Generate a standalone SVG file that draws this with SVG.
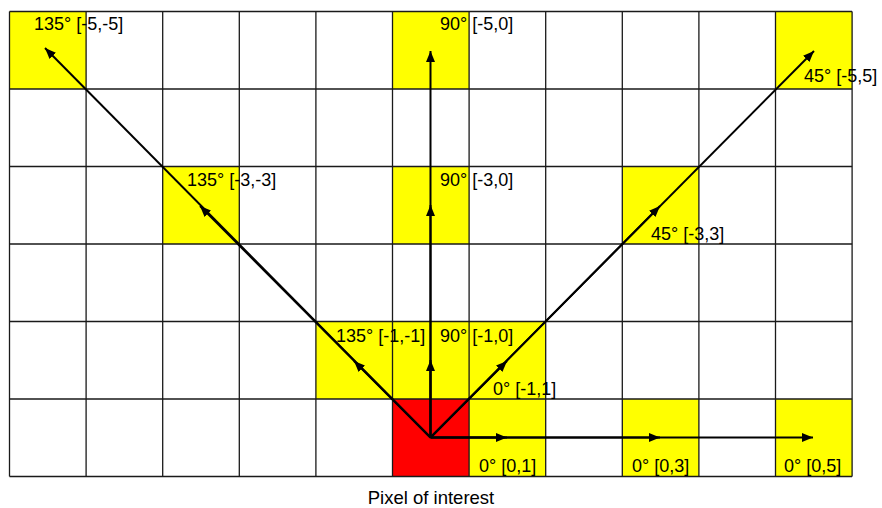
<svg xmlns="http://www.w3.org/2000/svg" width="882" height="508" viewBox="0 0 882 508">
<style>
  .y { fill: #FFFF00; }
  .r { fill: #FF0000; }
  .grid { stroke: #1a1a1a; stroke-width: 1.3; fill: none; }
  .lbl { font-family: "Liberation Sans", Arial, sans-serif; font-size: 18px; fill: #000; }
  .cap { font-family: "Liberation Sans", Arial, sans-serif; font-size: 18.5px; fill: #000; }
  .arr { stroke: #000; stroke-width: 2; fill: none; marker-end: url(#ah); }
</style>
<defs>
  <marker id="ah" markerUnits="userSpaceOnUse" markerWidth="12" markerHeight="10" refX="11" refY="5" orient="auto">
    <path d="M0,0.5 L11,5 L0,9.5 z" fill="#000"/>
  </marker>
</defs>
<rect x="0" y="0" width="882" height="508" fill="#fff"/>
<g id="cells">
  <rect class="y" x="9.5" y="11.5" width="76.6" height="77.5"/>
  <rect class="y" x="392.5" y="11.5" width="76.6" height="77.5"/>
  <rect class="y" x="775.5" y="11.5" width="76.6" height="77.5"/>
  <rect class="y" x="162.7" y="166.5" width="76.6" height="77.5"/>
  <rect class="y" x="392.5" y="166.5" width="76.6" height="77.5"/>
  <rect class="y" x="622.3" y="166.5" width="76.6" height="77.5"/>
  <rect class="y" x="315.9" y="321.5" width="229.8" height="77.5"/>
  <rect class="r" x="392.5" y="399" width="76.6" height="77.5"/>
  <rect class="y" x="469.1" y="399" width="76.6" height="77.5"/>
  <rect class="y" x="622.3" y="399" width="76.6" height="77.5"/>
  <rect class="y" x="775.5" y="399" width="76.6" height="77.5"/>
</g>
<g id="grid" class="grid">
  <path d="M9.5,11.5V476.5M86.1,11.5V476.5M162.7,11.5V476.5M239.3,11.5V476.5M315.9,11.5V476.5M392.5,11.5V476.5M469.1,11.5V476.5M545.7,11.5V476.5M622.3,11.5V476.5M698.9,11.5V476.5M775.5,11.5V476.5M852.1,11.5V476.5"/>
  <path d="M9.5,11.5H852.1M9.5,89H852.1M9.5,166.5H852.1M9.5,244H852.1M9.5,321.5H852.1M9.5,399H852.1M9.5,476.5H852.1"/>
</g>
<g id="connectors">
  <line class="arr" x1="430.5" y1="437.5" x2="430.5" y2="360"/>
  <line class="arr" x1="430.5" y1="437.5" x2="430.5" y2="205"/>
  <line class="arr" x1="430.5" y1="437.5" x2="430.5" y2="51"/>
  <line class="arr" x1="430.5" y1="437.5" x2="507" y2="437.5"/>
  <line class="arr" x1="430.5" y1="437.5" x2="660" y2="437.5"/>
  <line class="arr" x1="430.5" y1="437.5" x2="813" y2="437.5"/>
  <line class="arr" x1="430.5" y1="437.5" x2="507" y2="361"/>
  <line class="arr" x1="430.5" y1="437.5" x2="660" y2="206"/>
  <line class="arr" x1="430.5" y1="437.5" x2="814" y2="51"/>
  <line class="arr" x1="430.5" y1="437.5" x2="354" y2="361"/>
  <line class="arr" x1="430.5" y1="437.5" x2="200" y2="206"/>
  <line class="arr" x1="430.5" y1="437.5" x2="45" y2="48"/>
</g>
<g id="n135-5"><text class="lbl" x="34" y="30">135° [-5,-5]</text></g>
<g id="n90-5"><text class="lbl" x="440" y="30">90° [-5,0]</text></g>
<g id="n45-5"><text class="lbl" x="804" y="82">45° [-5,5]</text></g>
<g id="n135-3"><text class="lbl" x="187" y="186">135° [-3,-3]</text></g>
<g id="n90-3"><text class="lbl" x="440" y="186">90° [-3,0]</text></g>
<g id="n45-3"><text class="lbl" x="651" y="240">45° [-3,3]</text></g>
<g id="n135-1"><text class="lbl" x="336" y="342">135° [-1,-1]</text></g>
<g id="n90-1"><text class="lbl" x="440" y="342">90° [-1,0]</text></g>
<g id="n45-1"><text class="lbl" x="493" y="395">0° [-1,1]</text></g>
<g id="n0-1"><text class="lbl" x="479" y="472">0° [0,1]</text></g>
<g id="n0-3"><text class="lbl" x="632" y="472">0° [0,3]</text></g>
<g id="n0-5"><text class="lbl" x="784" y="472">0° [0,5]</text></g>
<g id="caption"><text class="cap" x="431" y="504" text-anchor="middle">Pixel of interest</text></g>
</svg>
